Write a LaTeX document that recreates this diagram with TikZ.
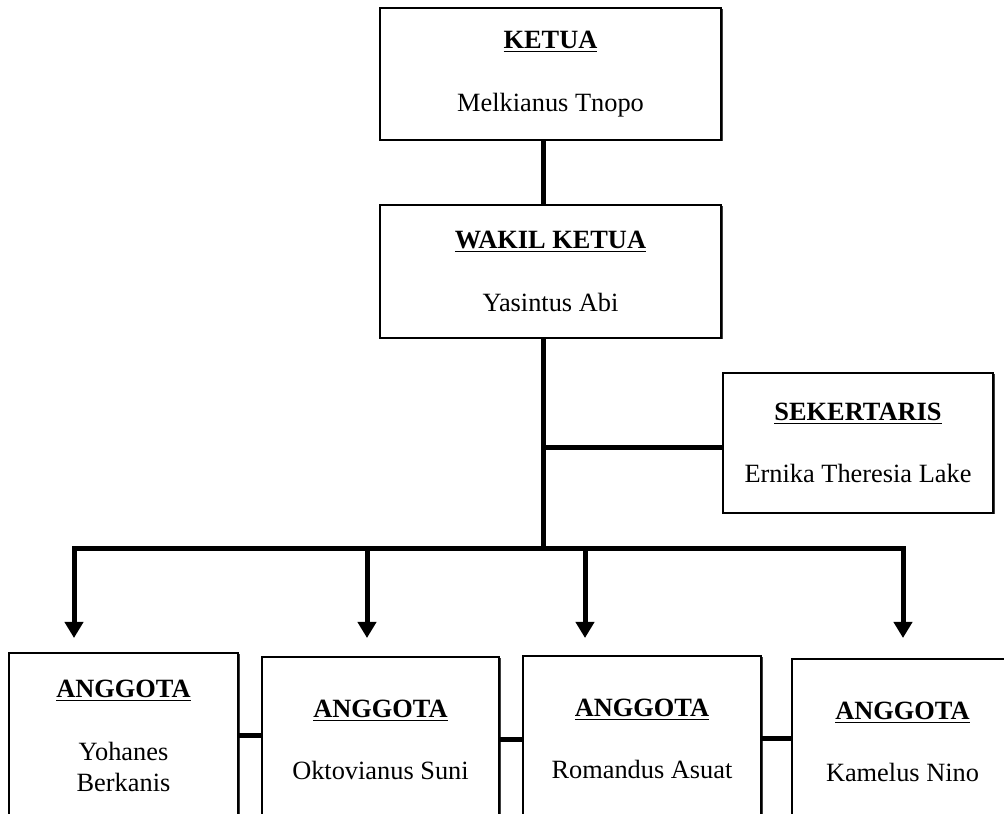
\documentclass[tikz,border=0pt]{standalone}
\usepackage{fontspec}
\setmainfont{Liberation Serif}
\usetikzlibrary{arrows.meta}
\usetikzlibrary{shadows}

\begin{document}
\begin{tikzpicture}[
  jabatan/.style={draw=black,line width=0.04cm,fill=white,align=center,inner sep=0pt,
    font=\fontsize{15}{17.6}\selectfont,
    drop shadow={shadow xshift=0.03cm,shadow yshift=-0.03cm,fill=black!75,opacity=1}},
  garis/.style={line width=0.1cm},
  panah/.style={garis,-{Triangle[width=0.36cm,length=0.32cm]}},
  ujung/.style={garis,{Triangle[width=0.36cm,length=0.32cm]}-{Triangle[width=0.36cm,length=0.32cm]}}
]
\clip (0,0) rectangle (20.08,16.28);
\fill[white] (0,0) rectangle (20.08,16.28);

\node[jabatan,minimum width=6.82cm,minimum height=2.64cm] (ketua) at (11.01,14.80) {\underline{\textbf{KETUA}}\\[18pt]Melkianus Tnopo};
\node[jabatan,minimum width=6.82cm,minimum height=2.66cm] (wakil) at (11.01,10.85) {\underline{\textbf{WAKIL KETUA}}\\[18pt]Yasintus Abi};
\node[jabatan,minimum width=5.40cm,minimum height=2.80cm] (sekr) at (17.16,7.42) {\underline{\textbf{SEKERTARIS}}\\[18pt]Ernika Theresia Lake};

\node[jabatan,minimum width=4.58cm,minimum height=3.32cm] (a1) at (2.47,1.56) {\underline{\textbf{ANGGOTA}}\\[18pt]Yohanes\\Berkanis};
\node[jabatan,minimum width=4.74cm,minimum height=3.32cm] (a2) at (7.61,1.48) {\underline{\textbf{ANGGOTA}}\\[18pt]Oktovianus Suni};
\node[jabatan,minimum width=4.76cm,minimum height=3.32cm] (a3) at (12.84,1.50) {\underline{\textbf{ANGGOTA}}\\[18pt]Romandus Asuat};
\node[jabatan,minimum width=4.42cm,minimum height=3.32cm] (a4) at (18.05,1.44) {\underline{\textbf{ANGGOTA}}\\[18pt]Kamelus Nino};

% garis utama
\coordinate (bus) at (10.86,5.30);
\coordinate (sj) at (10.86,7.32);
\draw[garis] (ketua.south -| bus) -- (wakil.north -| bus);
\draw[garis] (wakil.south -| bus) -- (bus);
\draw[garis] (sj) -- (sj -| sekr.west);

% cabang anggota
\coordinate (d1) at (1.48,5.30);
\coordinate (d2) at (7.34,5.30);
\coordinate (d3) at (11.70,5.30);
\coordinate (d4) at (18.06,5.30);
\coordinate (t1) at (1.48,3.52);
\coordinate (t2) at (7.34,3.52);
\coordinate (t3) at (11.70,3.52);
\coordinate (t4) at (18.06,3.52);
\draw[ujung] (t1) -- (d1) -- (d4) -- (t4);
\draw[panah] (d2) -- (t2);
\draw[panah] (d3) -- (t3);

\draw[garis] (a1.east) -- (a1.east -| a2.west);
\draw[garis] (a2.east) -- (a2.east -| a3.west);
\draw[garis] (a3.east) -- (a3.east -| a4.west);

\end{tikzpicture}
\end{document}
